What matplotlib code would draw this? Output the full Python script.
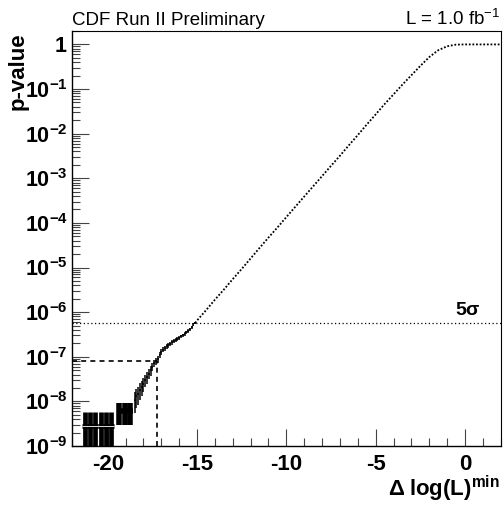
import matplotlib
matplotlib.use('Agg')
import matplotlib.pyplot as plt
from matplotlib.ticker import FixedLocator, FixedFormatter, NullFormatter

plt.rcParams['font.family'] = ['Liberation Sans', 'DejaVu Sans']
plt.rcParams['mathtext.fontset'] = 'custom'
plt.rcParams['mathtext.rm'] = 'Liberation Sans'
plt.rcParams['mathtext.bf'] = 'Liberation Sans:bold'
plt.rcParams['mathtext.it'] = 'Liberation Sans:italic'
plt.rcParams['mathtext.sf'] = 'Liberation Sans'

# ---- data ----
# smooth upper part of the p-value curve
curve_x = [-15.1, -15.0, -14.5, -14.0, -13.5, -13.0, -12.5, -12.0, -11.5, -11.0, -10.5,
           -10.0, -9.5, -9.0, -8.5, -8.0, -7.5, -7.0, -6.5, -6.0, -5.5,
           -5.0, -4.5, -4.0, -3.5, -3.0, -2.5, -2.0, -1.5, -1.0, -0.5, 0.0, 2.0]
curve_p = [5.7e-7, 6.5e-7, 1.1e-6, 1.9e-6, 3.2e-6, 5.5e-6, 9.3e-6, 1.6e-5, 2.75e-5, 4.7e-5, 7.9e-5,
           1.35e-4, 2.3e-4, 3.9e-4, 6.6e-4, 1.12e-3, 1.9e-3, 3.2e-3, 5.5e-3, 9.3e-3, 1.6e-2,
           2.7e-2, 4.6e-2, 7.6e-2, 0.126, 0.204, 0.33, 0.52, 0.74, 0.91, 0.99, 1.0, 1.0]

# noisy region with visible error bars
noisy_x = [-15.1, -15.2, -15.3, -15.4, -15.5, -15.6, -15.7, -15.8, -15.9, -16.0,
           -16.1, -16.2, -16.3, -16.4, -16.5, -16.6, -16.7, -16.8, -16.9, -17.0,
           -17.1, -17.2, -17.3, -17.4, -17.5, -17.6, -17.7, -17.8, -17.9, -18.0,
           -18.1, -18.2, -18.3, -18.4, -18.5]
noisy_p = [5.7e-7, 5.2e-7, 4.6e-7, 4.1e-7, 3.8e-7, 3.5e-7, 3.2e-7, 3.0e-7, 2.85e-7, 2.7e-7,
           2.55e-7, 2.4e-7, 2.25e-7, 2.1e-7, 1.95e-7, 1.8e-7, 1.7e-7, 1.55e-7, 1.45e-7, 1.3e-7,
           1.1e-7, 9.0e-8, 8.0e-8, 7.2e-8, 6.0e-8, 5.0e-8, 4.2e-8, 3.5e-8, 3.0e-8, 2.5e-8,
           2.1e-8, 1.8e-8, 1.5e-8, 1.3e-8, 1.1e-8]
noisy_err = [0.4e-7, 0.38e-7, 0.36e-7, 0.34e-7, 0.33e-7, 0.32e-7, 0.3e-7, 0.29e-7, 0.28e-7, 0.28e-7,
             0.27e-7, 0.26e-7, 0.25e-7, 0.24e-7, 0.24e-7, 0.23e-7, 0.22e-7, 0.21e-7, 0.2e-7, 0.19e-7,
             0.18e-7, 0.16e-7, 0.15e-7, 0.14e-7, 0.13e-7, 0.12e-7, 1.1e-8, 1.0e-8, 0.92e-8, 0.85e-8,
             0.78e-8, 0.72e-8, 0.65e-8, 0.6e-8, 0.55e-8]

# low-statistics tail (few counts per bin)
tail_mid_x = [-19.35, -19.05, -18.75]
tail_mid_p = [6.0e-9, 6.0e-9, 6.0e-9]
tail_mid_err = [3.0e-9, 3.0e-9, 3.0e-9]
tail_low_x = [-21.3, -21.0, -20.7, -20.4, -20.1, -19.8]
tail_low_p = [2.85e-9] * 6
tail_low_err = [2.85e-9] * 6

five_sigma_p = 5.73e-7
obs_x = -17.23
obs_p = 8.0e-8

xticks_major = [-20, -15, -10, -5, 0]
xticks_minor = [-22, -21, -19, -18, -17, -16, -14, -13, -12, -11, -9, -8, -7, -6, -4, -3, -2, -1, 1, 2]
yticks_major = [1e-9, 1e-8, 1e-7, 1e-6, 1e-5, 1e-4, 1e-3, 1e-2, 1e-1, 1]
ytick_labels = [r'$\mathbf{10^{-9}}$', r'$\mathbf{10^{-8}}$', r'$\mathbf{10^{-7}}$',
                r'$\mathbf{10^{-6}}$', r'$\mathbf{10^{-5}}$', r'$\mathbf{10^{-4}}$',
                r'$\mathbf{10^{-3}}$', r'$\mathbf{10^{-2}}$', r'$\mathbf{10^{-1}}$',
                r'$\mathbf{1}$']

# ---- figure ----
fig = plt.figure(figsize=(5.04, 5.05), dpi=100)
ax = fig.add_axes([72/504, 1-446/505, (500.7-72)/504, (446-31)/505])
ax.set_yscale('log')
ax.set_xlim(-22, 2)
ax.set_ylim(1e-9, 2.0)

# curve
ax.plot(curve_x, curve_p, color='black', lw=1.3, ls=(0, (1, 1)))
ax.errorbar(noisy_x, noisy_p, yerr=noisy_err, xerr=0.05, fmt='none', ecolor='black', elinewidth=1.1)
ax.errorbar(tail_mid_x, tail_mid_p, yerr=tail_mid_err, xerr=0.15, fmt='none', ecolor='black', elinewidth=4.0)
low_lo = [p - 1e-9 * 0.999 if p - e <= 0 else e for p, e in zip(tail_low_p, tail_low_err)]
ax.errorbar(tail_low_x, tail_low_p, yerr=[low_lo, tail_low_err], xerr=0.15, fmt='none',
            ecolor='black', elinewidth=3.4)
ax.hlines(tail_low_p[0], tail_low_x[0] - 0.15, tail_low_x[-1] + 0.15, color='white', lw=0.6, zorder=5)

# reference lines
ax.axhline(five_sigma_p, color='black', lw=0.9, ls=(0, (1, 2)))
ax.plot([-22, obs_x], [obs_p, obs_p], color='black', lw=1.2, ls=(0, (3, 2.5)))
ax.plot([obs_x, obs_x], [1e-9, obs_p], color='black', lw=1.2, ls=(0, (3, 2.5)))
ax.text(0.9, five_sigma_p * 1.25, r'$\mathbf{5\sigma}$', fontsize=14, ha='right', va='bottom')

# axes styling
for s in ['top', 'right']:
    ax.spines[s].set_linewidth(0.8)
for s in ['left', 'bottom']:
    ax.spines[s].set_linewidth(1.0)
ax.xaxis.set_major_locator(FixedLocator(xticks_major))
ax.xaxis.set_minor_locator(FixedLocator(xticks_minor))
ax.set_xticklabels([str(v) for v in xticks_major])
ax.yaxis.set_major_locator(FixedLocator(yticks_major))
ax.yaxis.set_major_formatter(FixedFormatter(ytick_labels))
minor_y = [m * 10.0**k for k in range(-9, 1) for m in range(2, 10)]
ax.yaxis.set_minor_locator(FixedLocator(minor_y))
ax.yaxis.set_minor_formatter(NullFormatter())
ax.tick_params(axis='both', which='both', direction='in', top=False, right=False, color='#444444')
ax.tick_params(axis='y', which='major', length=12, width=0.8, labelsize=15.5, pad=3)
ax.tick_params(axis='y', which='minor', length=6, width=0.8)
ax.tick_params(axis='x', which='major', length=12, width=0.8, labelsize=16, pad=6)
ax.tick_params(axis='x', which='minor', length=6, width=0.8)
for lab in ax.get_xticklabels():
    lab.set_fontweight('bold')

fig.text(72/504, 1-25/505, 'CDF Run II Preliminary', fontsize=13.5, ha='left', va='baseline')
fig.text(500/504, 1-25/505, r'L = 1.0 fb$^{-1}$', fontsize=13.5, ha='right', va='baseline')
fig.text(18/504, 1-32/505, 'p-value', fontsize=16, fontweight='bold', rotation=90,
         ha='center', va='top')
fig.text(500/504, 1-496/505, r'$\mathbf{\Delta\;log(L)^{min}}$', fontsize=16, ha='right', va='baseline')

fig.savefig('out.png', dpi=100)
